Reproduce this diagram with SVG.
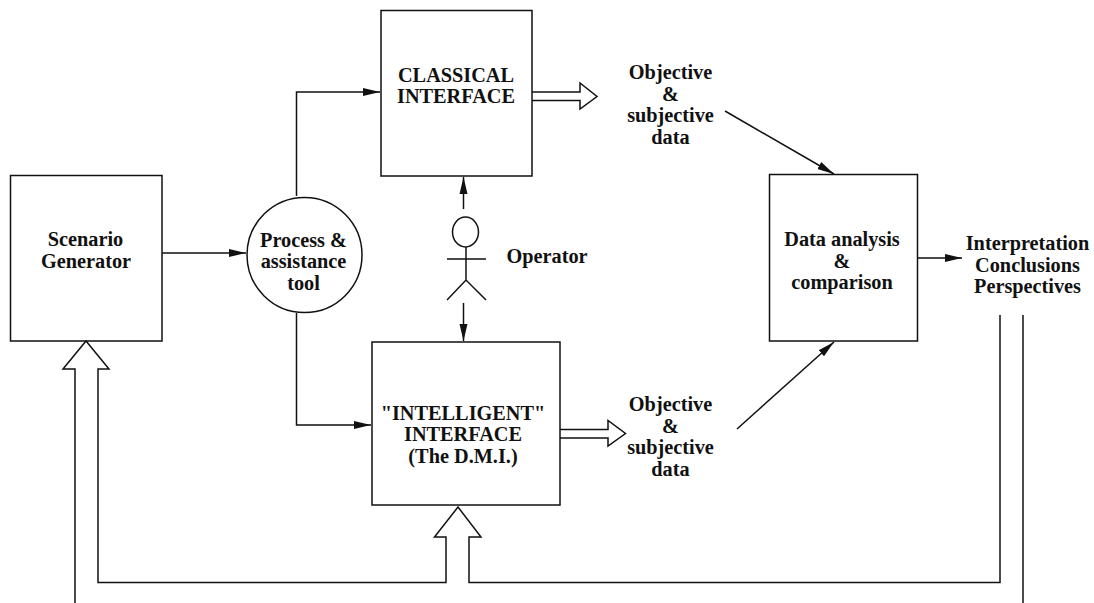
<svg xmlns="http://www.w3.org/2000/svg" width="1094" height="603" viewBox="0 0 1094 603">
<style>
.s{fill:none;stroke:#111;stroke-width:1.5}
.c{fill:none;stroke:#111;stroke-width:1.5;marker-end:url(#a)}
text{font-family:"Liberation Serif","Times New Roman",serif;font-weight:bold;font-size:20.300px;fill:#111;text-anchor:middle}
</style>
<defs>
<marker id="a" markerUnits="userSpaceOnUse" markerWidth="18" markerHeight="10" refX="17" refY="5" orient="auto"><path d="M0 1L17 5L0 9z" fill="#111"/></marker>
</defs>
<rect width="1094" height="603" fill="#fff"/>
<g id="connectors">
<path class="c" d="M162 253H246"/>
<path class="c" d="M296.500 196V92H380"/>
<path class="c" d="M296.500 313V425H371"/>
<path class="c" d="M463.500 209V177"/>
<path class="c" d="M463.500 303V341"/>
<path class="c" d="M725 111L834 174"/>
<path class="c" d="M737 429L834 342"/>
<path class="c" d="M917 258H962"/>
<path class="s" d="M532 92H580V83L597 96.500L580 109V100.500H532"/>
<path class="s" d="M560 429.500H608V420.500L625.500 433.500L608 446V438H560"/>
<path class="s" d="M75 603V369H63L86 341L109 369H98V582.500H446V537H434.500L458 507L481 537H469V582.500H1000V315"/>
<path class="s" d="M1023 315V603"/>
</g>
<g id="scenario"><rect class="s" x="10.500" y="175.500" width="151.500" height="165.500"/><text x="85.500" y="246">Scenario</text><text x="86" y="268">Generator</text></g>
<g id="process"><circle class="s" cx="304.500" cy="255" r="57.500"/><text x="303.500" y="247">Process &amp;</text><text x="303.500" y="268">assistance</text><text x="303.500" y="290">tool</text></g>
<g id="classical"><rect class="s" x="381" y="10.500" width="151" height="165.500"/><text x="456" y="81.500">CLASSICAL</text><text x="456" y="102.500">INTERFACE</text></g>
<g id="intelligent"><rect class="s" x="372" y="342" width="188" height="163"/><text x="463" y="420">"INTELLIGENT"</text><text x="463" y="441">INTERFACE</text><text x="463" y="463">(The D.M.I.)</text></g>
<g id="operator"><ellipse class="s" cx="465.500" cy="232" rx="13" ry="15"/><path class="s" d="M466 247V280M447 259H486M447 300L466 280L486 300"/><text x="547" y="263">Operator</text></g>
<g id="data1"><text x="670.500" y="79">Objective</text><text x="670.500" y="101">&amp;</text><text x="670.500" y="122">subjective</text><text x="670.500" y="144">data</text></g>
<g id="data2"><text x="670.500" y="411">Objective</text><text x="670.500" y="432.500">&amp;</text><text x="670.500" y="454">subjective</text><text x="670.500" y="475.500">data</text></g>
<g id="analysis"><rect class="s" x="769.500" y="174.500" width="148" height="166.500"/><text x="842" y="246">Data analysis</text><text x="842" y="268">&amp;</text><text x="842" y="289">comparison</text></g>
<g id="interpretation"><text x="1027.500" y="250">Interpretation</text><text x="1027.500" y="272">Conclusions</text><text x="1027.500" y="293">Perspectives</text></g>
</svg>
